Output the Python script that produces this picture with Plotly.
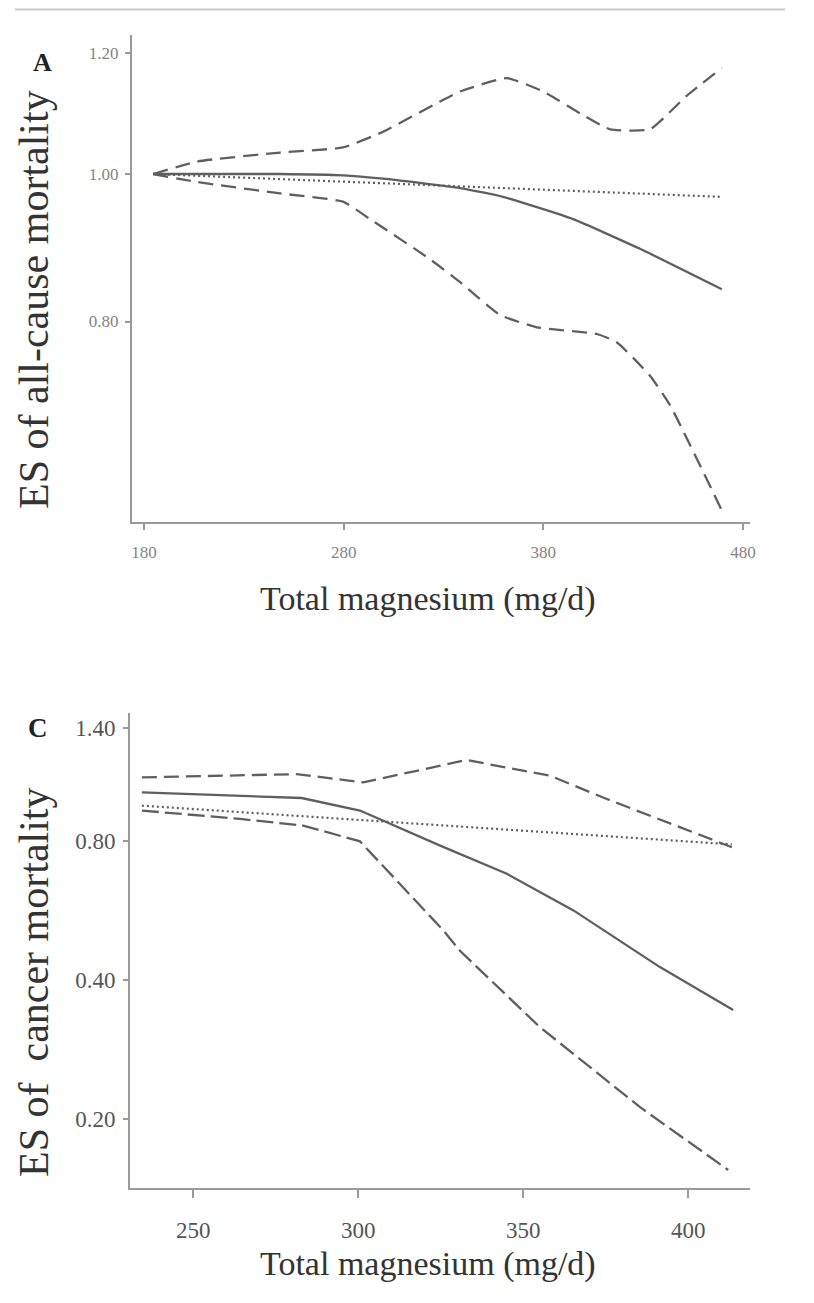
import plotly.graph_objects as go

# page body adds an 8px margin; the figure is sized and positioned to compensate
OFF = 8
W, H = 798, 1287

# ---------------- Panel A: all-cause mortality ----------------
a_x_ticks = [180, 280, 380, 480]
a_y_ticks = [0.80, 1.00, 1.20]
a_y_ticklabels = ["0.80", "1.00", "1.20"]

a_upper_x = [184.6, 206.6, 248.2, 279.7, 299.7, 328.3, 338.3, 361.8, 379.9, 398.4, 413.4, 433.4, 451.6, 469.4]
a_upper_y = [1.000, 1.019, 1.033, 1.041, 1.066, 1.116, 1.133, 1.156, 1.133, 1.096, 1.070, 1.070, 1.125, 1.174]

a_solid_x = [184.6, 248.2, 279.7, 299.7, 338.3, 359.8, 394.9, 428.4, 469.4]
a_solid_y = [1.000, 1.000, 0.998, 0.993, 0.979, 0.966, 0.934, 0.893, 0.840]

a_dot_x = [184.6, 469.4]
a_dot_y = [1.000, 0.966]

a_lower_x = [184.6, 206.6, 248.2, 279.7, 293.2, 323.3, 338.3, 358.3, 376.8, 406.9, 416.9, 433.4, 443.4, 469.4]
a_lower_y = [1.000, 0.988, 0.971, 0.959, 0.934, 0.879, 0.849, 0.808, 0.793, 0.785, 0.775, 0.737, 0.705, 0.601]

# ---------------- Panel C: cancer mortality ----------------
c_x_ticks = [250, 300, 350, 400]
c_y_ticks = [0.20, 0.40, 0.80, 1.40]
c_y_ticklabels = ["0.20", "0.40", "0.80", "1.40"]

c_upper_x = [234.4, 281.3, 301.5, 332.8, 358.1, 375.3, 413.2]
c_upper_y = [1.096, 1.114, 1.069, 1.195, 1.105, 0.984, 0.774]

c_solid_x = [234.4, 282.8, 300.5, 324.8, 345.0, 365.2, 391.4, 413.6]
c_solid_y = [1.017, 0.989, 0.929, 0.780, 0.678, 0.565, 0.426, 0.344]

c_dot_x = [234.4, 413.2]
c_dot_y = [0.952, 0.785]

c_lower_x = [234.4, 264.2, 283.3, 300.5, 325.8, 330.8, 355.0, 385.4, 412.1]
c_lower_y = [0.929, 0.891, 0.862, 0.797, 0.511, 0.462, 0.316, 0.212, 0.155]

LINE = "#5f5f5f"
AXIS = "#9a9a9a"
SERIF = "Liberation Serif, Times New Roman, serif"

fig = go.Figure()

def add(x, y, dash, xa, ya, width=2.3, shape="linear"):
    fig.add_trace(go.Scatter(x=x, y=y, mode="lines", xaxis=xa, yaxis=ya,
                             line=dict(color=LINE, width=width, dash=dash, shape=shape,
                                       smoothing=0.45 if shape == "spline" else None),
                             showlegend=False, hoverinfo="skip"))

add(a_upper_x, a_upper_y, "15px,8px", "x", "y", shape="spline")
add(a_lower_x, a_lower_y, "15px,8px", "x", "y", shape="spline")
add(a_solid_x, a_solid_y, "solid", "x", "y", shape="spline")
add(a_dot_x, a_dot_y, "2px,3px", "x", "y", width=2.2)

add(c_upper_x, c_upper_y, "15px,7px", "x2", "y2")
add(c_lower_x, c_lower_y, "17px,6px", "x2", "y2")
add(c_solid_x, c_solid_y, "solid", "x2", "y2")
add(c_dot_x, c_dot_y, "2px,3px", "x2", "y2", width=2.2)

def px_x(p):
    return (p - OFF) / W

def px_y(p):
    return 1 - (p - OFF) / H

common_axis = dict(showline=True, linecolor=AXIS, linewidth=2, ticks="outside",
                   tickcolor=AXIS, tickwidth=1.5, showgrid=False, zeroline=False,
                   mirror=False, automargin=False)

fig.update_layout(
    width=W, height=H,
    margin=dict(l=0, r=0, t=0, b=0),
    paper_bgcolor="white", plot_bgcolor="white",
    font=dict(family=SERIF, color="#333"),
    xaxis=dict(domain=[px_x(132), px_x(750)], range=[174.0, 483.5], anchor="y",
               tickvals=a_x_ticks, ticktext=[str(v) for v in a_x_ticks], ticklen=6,
               tickfont=dict(family=SERIF, size=17, color="#858585"),
               ticklabelstandoff=8, **common_axis),
    yaxis=dict(domain=[px_y(522), px_y(35)], type="log", range=[-0.22865, 0.09133], anchor="x",
               tickvals=a_y_ticks, ticktext=a_y_ticklabels, ticklen=5,
               tickfont=dict(family=SERIF, size=17, color="#858585"),
               ticklabelstandoff=3, **common_axis),
    xaxis2=dict(domain=[px_x(130), px_x(750)], range=[230.8, 418.7], anchor="y2",
                tickvals=c_x_ticks, ticktext=[str(v) for v in c_x_ticks], ticklen=8,
                tickfont=dict(family=SERIF, size=23, color="#555"),
                ticklabelstandoff=12, **common_axis),
    yaxis2=dict(domain=[px_y(1188), px_y(713)], type="log", range=[-0.8485, 0.1791], anchor="x2",
                tickvals=c_y_ticks, ticktext=c_y_ticklabels, ticklen=5,
                tickfont=dict(family=SERIF, size=23, color="#555"),
                ticklabelstandoff=3, **common_axis),
)

annots = [
    dict(text="A", x=px_x(42), y=px_y(62), font=dict(size=26, color="#222"), bold=True),
    dict(text="C", x=px_x(38), y=px_y(728), font=dict(size=27, color="#222"), bold=True),
    dict(text="Total magnesium (mg/d)", x=px_x(428), y=px_y(599), font=dict(size=34, color="#333")),
    dict(text="Total magnesium (mg/d)", x=px_x(428), y=px_y(1264), font=dict(size=34, color="#333")),
    dict(text="ES of all-cause mortality", x=px_x(34), y=px_y(300), textangle=-90,
         font=dict(size=42, color="#333")),
    dict(text="ES of  cancer mortality", x=px_x(34), y=px_y(982), textangle=-90,
         font=dict(size=42, color="#333")),
]
for a in annots:
    bold = a.pop("bold", False)
    if bold:
        a["text"] = "<b>" + a["text"] + "</b>"
    a["font"]["family"] = SERIF
    fig.add_annotation(xref="paper", yref="paper", showarrow=False,
                       xanchor="center", yanchor="middle", **a)

# thin grey rule across the top of the figure
fig.add_shape(type="line", xref="paper", yref="paper",
              x0=px_x(15), x1=px_x(785), y0=px_y(9.5), y1=px_y(9.5),
              line=dict(color="#c8c8c8", width=2))

fig.write_html("out.html")
